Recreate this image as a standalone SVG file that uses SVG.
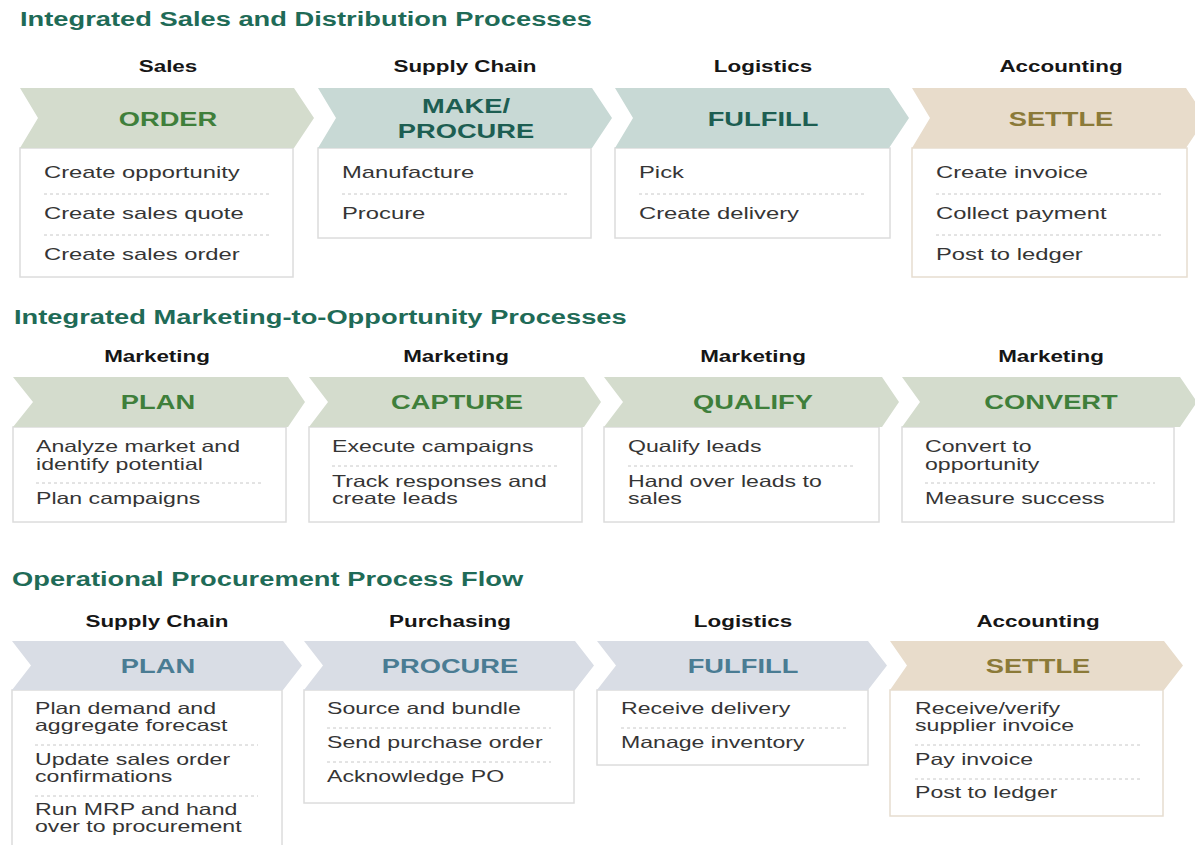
<svg xmlns="http://www.w3.org/2000/svg" width="1195" height="845" viewBox="0 0 1195 845">
<style>
text{font-family:"Liberation Sans",Arial,Helvetica,sans-serif}
.t{font-weight:bold;font-size:19.5px;fill:#1f6b57}
.h{font-weight:bold;font-size:16px;fill:#161616;text-anchor:middle}
.lb{font-weight:bold;font-size:19.5px;text-anchor:middle}
.b1{font-size:17px;fill:#353535}
.b2{font-size:16.5px;fill:#353535}
.box{fill:#fff;stroke:#dcdcdc;stroke-width:1.5}
.boxs{fill:#fff;stroke:#e6ddcf;stroke-width:1.5}
.dash{stroke:#c8c8c8;stroke-width:1;stroke-dasharray:3 3;fill:none}
.cg{fill:#d4dccd}.ct{fill:#c8d9d5}.cb{fill:#e8dccb}.cs{fill:#d9dde5}
.lg{fill:#3f7f3b}.lt{fill:#1d5e52}.lo{fill:#8b7a38}.ls{fill:#4a7c93}
</style>
<rect width="1195" height="845" fill="#fff"/>

<text class="t" transform="translate(20,26) scale(1.4,1)">Integrated Sales and Distribution Processes</text>
<text class="t" transform="translate(14,324) scale(1.4,1)">Integrated Marketing-to-Opportunity Processes</text>
<text class="t" transform="translate(12,586) scale(1.4,1)">Operational Procurement Process Flow</text>

<!-- Section 1 -->
<g id="s1-order">
<rect class="box" x="20" y="148" width="273" height="129"/>
<path class="cg" d="M20,88 H294 L314,118 L294,148 H20 L38,118 Z"/>
<text class="h" transform="translate(168,72) scale(1.4,1)">Sales</text>
<text class="lb lg" transform="translate(168,126) scale(1.4,1)">ORDER</text>
<text class="b1" transform="translate(44,178) scale(1.4,1)">Create opportunity</text>
<line class="dash" x1="44" y1="194" x2="270" y2="194"/>
<text class="b1" transform="translate(44,219) scale(1.4,1)">Create sales quote</text>
<line class="dash" x1="44" y1="235" x2="270" y2="235"/>
<text class="b1" transform="translate(44,260) scale(1.4,1)">Create sales order</text>
</g>
<g id="s1-make">
<rect class="box" x="318" y="148" width="273" height="90"/>
<path class="ct" d="M318,88 H592 L612,118 L592,148 H318 L336,118 Z"/>
<text class="h" transform="translate(465,72) scale(1.4,1)">Supply Chain</text>
<text class="lb lt" transform="translate(466,113) scale(1.4,1)">MAKE/</text>
<text class="lb lt" transform="translate(466,138) scale(1.4,1)">PROCURE</text>
<text class="b1" transform="translate(342,178) scale(1.4,1)">Manufacture</text>
<line class="dash" x1="342" y1="194" x2="569" y2="194"/>
<text class="b1" transform="translate(342,219) scale(1.4,1)">Procure</text>
</g>
<g id="s1-fulfill">
<rect class="box" x="615" y="148" width="275" height="90"/>
<path class="ct" d="M615,88 H889 L909,118 L889,148 H615 L633,118 Z"/>
<text class="h" transform="translate(763,72) scale(1.4,1)">Logistics</text>
<text class="lb lt" transform="translate(763,126) scale(1.4,1)">FULFILL</text>
<text class="b1" transform="translate(639,178) scale(1.4,1)">Pick</text>
<line class="dash" x1="639" y1="194" x2="867" y2="194"/>
<text class="b1" transform="translate(639,219) scale(1.4,1)">Create delivery</text>
</g>
<g id="s1-settle">
<rect class="boxs" x="912" y="148" width="275" height="129"/>
<path class="cb" d="M912,88 H1186 L1206,118 L1186,148 H912 L930,118 Z"/>
<text class="h" transform="translate(1061,72) scale(1.4,1)">Accounting</text>
<text class="lb lo" transform="translate(1061,126) scale(1.4,1)">SETTLE</text>
<text class="b1" transform="translate(936,178) scale(1.4,1)">Create invoice</text>
<line class="dash" x1="936" y1="194" x2="1164" y2="194"/>
<text class="b1" transform="translate(936,219) scale(1.4,1)">Collect payment</text>
<line class="dash" x1="936" y1="235" x2="1164" y2="235"/>
<text class="b1" transform="translate(936,260) scale(1.4,1)">Post to ledger</text>
</g>

<!-- Section 2 -->
<g id="s2-plan">
<rect class="box" x="13" y="427" width="273" height="95"/>
<path class="cg" d="M13,377 H288 L305,402 L288,427 H13 L33,402 Z"/>
<text class="h" transform="translate(157,362) scale(1.4,1)">Marketing</text>
<text class="lb lg" transform="translate(158,409) scale(1.4,1)">PLAN</text>
<text class="b2" transform="translate(36,452) scale(1.4,1)">Analyze market and</text>
<text class="b2" transform="translate(36,470) scale(1.4,1)">identify potential</text>
<line class="dash" x1="36" y1="483" x2="264" y2="483"/>
<text class="b2" transform="translate(36,504) scale(1.4,1)">Plan campaigns</text>
</g>
<g id="s2-capture">
<rect class="box" x="309" y="427" width="273" height="95"/>
<path class="cg" d="M309,377 H584 L601,402 L584,427 H309 L328,402 Z"/>
<text class="h" transform="translate(456,362) scale(1.4,1)">Marketing</text>
<text class="lb lg" transform="translate(457,409) scale(1.4,1)">CAPTURE</text>
<text class="b2" transform="translate(332,452) scale(1.4,1)">Execute campaigns</text>
<line class="dash" x1="332" y1="466" x2="559" y2="466"/>
<text class="b2" transform="translate(332,487) scale(1.4,1)">Track responses and</text>
<text class="b2" transform="translate(332,504) scale(1.4,1)">create leads</text>
</g>
<g id="s2-qualify">
<rect class="box" x="604" y="427" width="275" height="95"/>
<path class="cg" d="M604,377 H882 L899,402 L882,427 H604 L623,402 Z"/>
<text class="h" transform="translate(753,362) scale(1.4,1)">Marketing</text>
<text class="lb lg" transform="translate(753,409) scale(1.4,1)">QUALIFY</text>
<text class="b2" transform="translate(628,452) scale(1.4,1)">Qualify leads</text>
<line class="dash" x1="628" y1="466" x2="855" y2="466"/>
<text class="b2" transform="translate(628,487) scale(1.4,1)">Hand over leads to</text>
<text class="b2" transform="translate(628,504) scale(1.4,1)">sales</text>
</g>
<g id="s2-convert">
<rect class="box" x="902" y="427" width="272" height="95"/>
<path class="cg" d="M902,377 H1180 L1197,402 L1180,427 H902 L920,402 Z"/>
<text class="h" transform="translate(1051,362) scale(1.4,1)">Marketing</text>
<text class="lb lg" transform="translate(1051,409) scale(1.4,1)">CONVERT</text>
<text class="b2" transform="translate(925,452) scale(1.4,1)">Convert to</text>
<text class="b2" transform="translate(925,470) scale(1.4,1)">opportunity</text>
<line class="dash" x1="925" y1="483" x2="1155" y2="483"/>
<text class="b2" transform="translate(925,504) scale(1.4,1)">Measure success</text>
</g>

<!-- Section 3 -->
<g id="s3-plan">
<rect class="box" x="12" y="690" width="270" height="170"/>
<path class="cs" d="M12,641 H283 L302,665.5 L283,690 H12 L31,665.5 Z"/>
<text class="h" transform="translate(157,627) scale(1.4,1)">Supply Chain</text>
<text class="lb ls" transform="translate(158,673) scale(1.4,1)">PLAN</text>
<text class="b2" transform="translate(35,714) scale(1.4,1)">Plan demand and</text>
<text class="b2" transform="translate(35,731) scale(1.4,1)">aggregate forecast</text>
<line class="dash" x1="35" y1="745" x2="258" y2="745"/>
<text class="b2" transform="translate(35,765) scale(1.4,1)">Update sales order</text>
<text class="b2" transform="translate(35,782) scale(1.4,1)">confirmations</text>
<line class="dash" x1="35" y1="796" x2="258" y2="796"/>
<text class="b2" transform="translate(35,815) scale(1.4,1)">Run MRP and hand</text>
<text class="b2" transform="translate(35,832) scale(1.4,1)">over to procurement</text>
</g>
<g id="s3-procure">
<rect class="box" x="304" y="690" width="270" height="113"/>
<path class="cs" d="M304,641 H575 L594,665.5 L575,690 H304 L323,665.5 Z"/>
<text class="h" transform="translate(450,627) scale(1.4,1)">Purchasing</text>
<text class="lb ls" transform="translate(450,673) scale(1.4,1)">PROCURE</text>
<text class="b2" transform="translate(327,714) scale(1.4,1)">Source and bundle</text>
<line class="dash" x1="327" y1="728" x2="551" y2="728"/>
<text class="b2" transform="translate(327,748) scale(1.4,1)">Send purchase order</text>
<line class="dash" x1="327" y1="762" x2="551" y2="762"/>
<text class="b2" transform="translate(327,782) scale(1.4,1)">Acknowledge PO</text>
</g>
<g id="s3-fulfill">
<rect class="box" x="597" y="690" width="271" height="75"/>
<path class="cs" d="M597,641 H868 L887,665.5 L868,690 H597 L616,665.5 Z"/>
<text class="h" transform="translate(743,627) scale(1.4,1)">Logistics</text>
<text class="lb ls" transform="translate(743,673) scale(1.4,1)">FULFILL</text>
<text class="b2" transform="translate(621,714) scale(1.4,1)">Receive delivery</text>
<line class="dash" x1="621" y1="728" x2="846" y2="728"/>
<text class="b2" transform="translate(621,748) scale(1.4,1)">Manage inventory</text>
</g>
<g id="s3-settle">
<rect class="boxs" x="890" y="690" width="273" height="126"/>
<path class="cb" d="M890,641 H1164 L1183,665.5 L1164,690 H890 L907,665.5 Z"/>
<text class="h" transform="translate(1038,627) scale(1.4,1)">Accounting</text>
<text class="lb lo" transform="translate(1038,673) scale(1.4,1)">SETTLE</text>
<text class="b2" transform="translate(915,714) scale(1.4,1)">Receive/verify</text>
<text class="b2" transform="translate(915,731) scale(1.4,1)">supplier invoice</text>
<line class="dash" x1="915" y1="745" x2="1141" y2="745"/>
<text class="b2" transform="translate(915,765) scale(1.4,1)">Pay invoice</text>
<line class="dash" x1="915" y1="779" x2="1141" y2="779"/>
<text class="b2" transform="translate(915,798) scale(1.4,1)">Post to ledger</text>
</g>
</svg>
